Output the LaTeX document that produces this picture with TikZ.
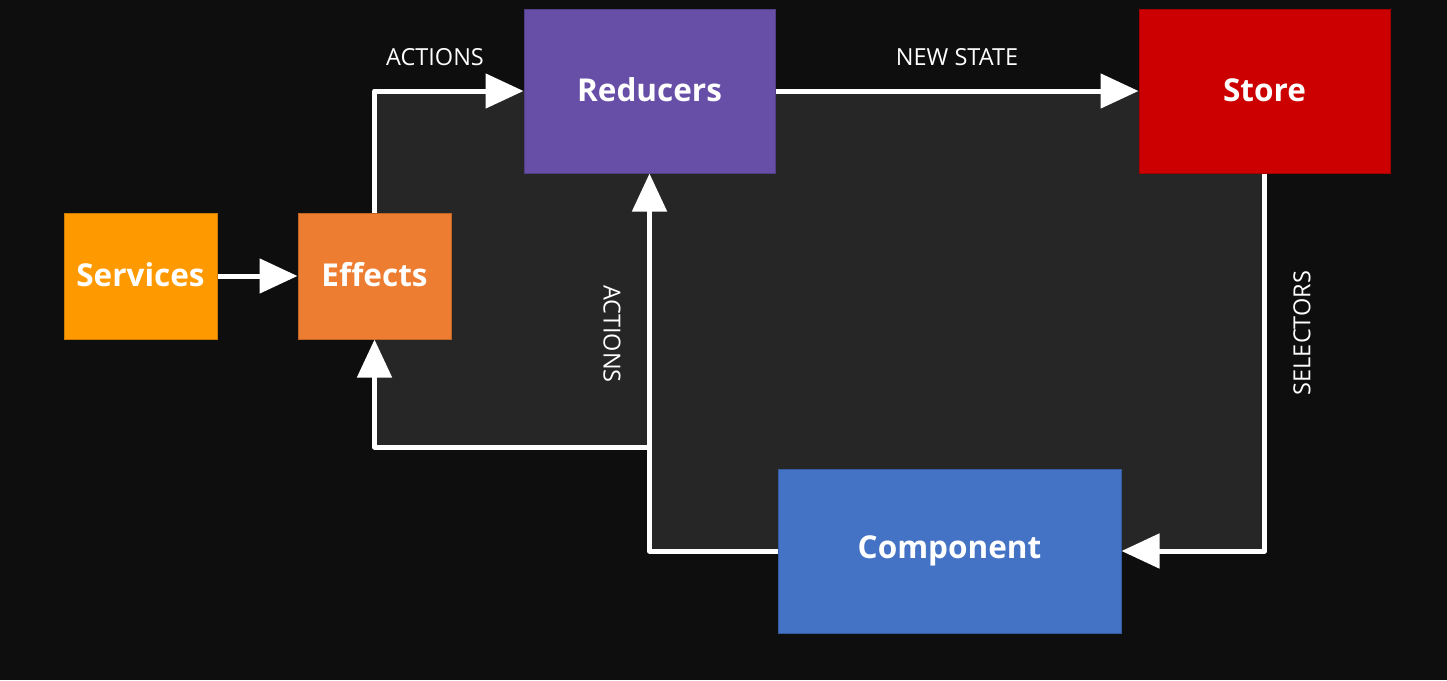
\documentclass[tikz,border=0pt]{standalone}
\usepackage{fontspec}
\setmainfont{Open Sans}
\usetikzlibrary{arrows.meta}
\definecolor{bgc}{HTML}{0E0E0E}
\definecolor{areac}{HTML}{262626}
\definecolor{servc}{HTML}{FF9900}
\definecolor{effc}{HTML}{ED7D31}
\definecolor{redc}{HTML}{674EA7}
\definecolor{storec}{HTML}{CC0000}
\definecolor{compc}{HTML}{4472C4}
\newcommand{\boxtxt}[1]{\raisebox{2.5pt}{#1}}
\tikzset{
  box/.style={draw=#1!80!black, line width=1pt, fill=#1, inner sep=0pt, text=white,
    font=\bfseries\fontsize{31.5}{31.5}\selectfont},
  flow/.style={draw=white, line width=5pt, line join=round,
    -{Triangle[length=38pt,width=34pt]}},
  lbl/.style={text=white, font=\fontsize{23.5}{23.5}\selectfont, inner sep=0pt}
}
\begin{document}
\begin{tikzpicture}[x=1pt,y=-1pt]
\useasboundingbox (0,0) rectangle (1447,680);
\fill[bgc] (0,0) rectangle (1447,680);
\fill[areac] (374.5,91) -- (1264.5,91) -- (1264.5,551) -- (649.5,551) -- (649.5,447) -- (374.5,447) -- cycle;

\node[box=servc, minimum width=153pt, minimum height=126pt] (services) at (140.5,276) {\boxtxt{Services}};
\node[box=effc, minimum width=153pt, minimum height=126pt] (effects) at (374.5,276) {\boxtxt{Effects}};
\node[box=redc, minimum width=251pt, minimum height=164pt] (reducers) at (649.5,91) {\boxtxt{Reducers}};
\node[box=storec, minimum width=251pt, minimum height=164pt] (store) at (1264.5,91) {\boxtxt{Store}};
\node[box=compc, minimum width=343pt, minimum height=164pt] (component) at (949.5,551) {\boxtxt{Component}};

\coordinate (j) at (649.5,447);

\draw[flow] (services.east) -- (effects.west);
\draw[flow] (effects.north) |- (reducers.west);
\draw[flow] (reducers.east) -- (store.west);
\draw[flow] (store.south) |- (component.east);
\draw[flow] (component.west) -| (reducers.south);
\draw[flow] (j) -| (effects.south);

\node[lbl] (l1) at (435,57.5) {ACTIONS};
\node[lbl] (l2) at (957,57.5) {NEW STATE};
\node[lbl, rotate=-90] (l3) at (612,334) {ACTIONS};
\node[lbl, rotate=90] (l4) at (1302,333) {SELECTORS};
\end{tikzpicture}
\end{document}
